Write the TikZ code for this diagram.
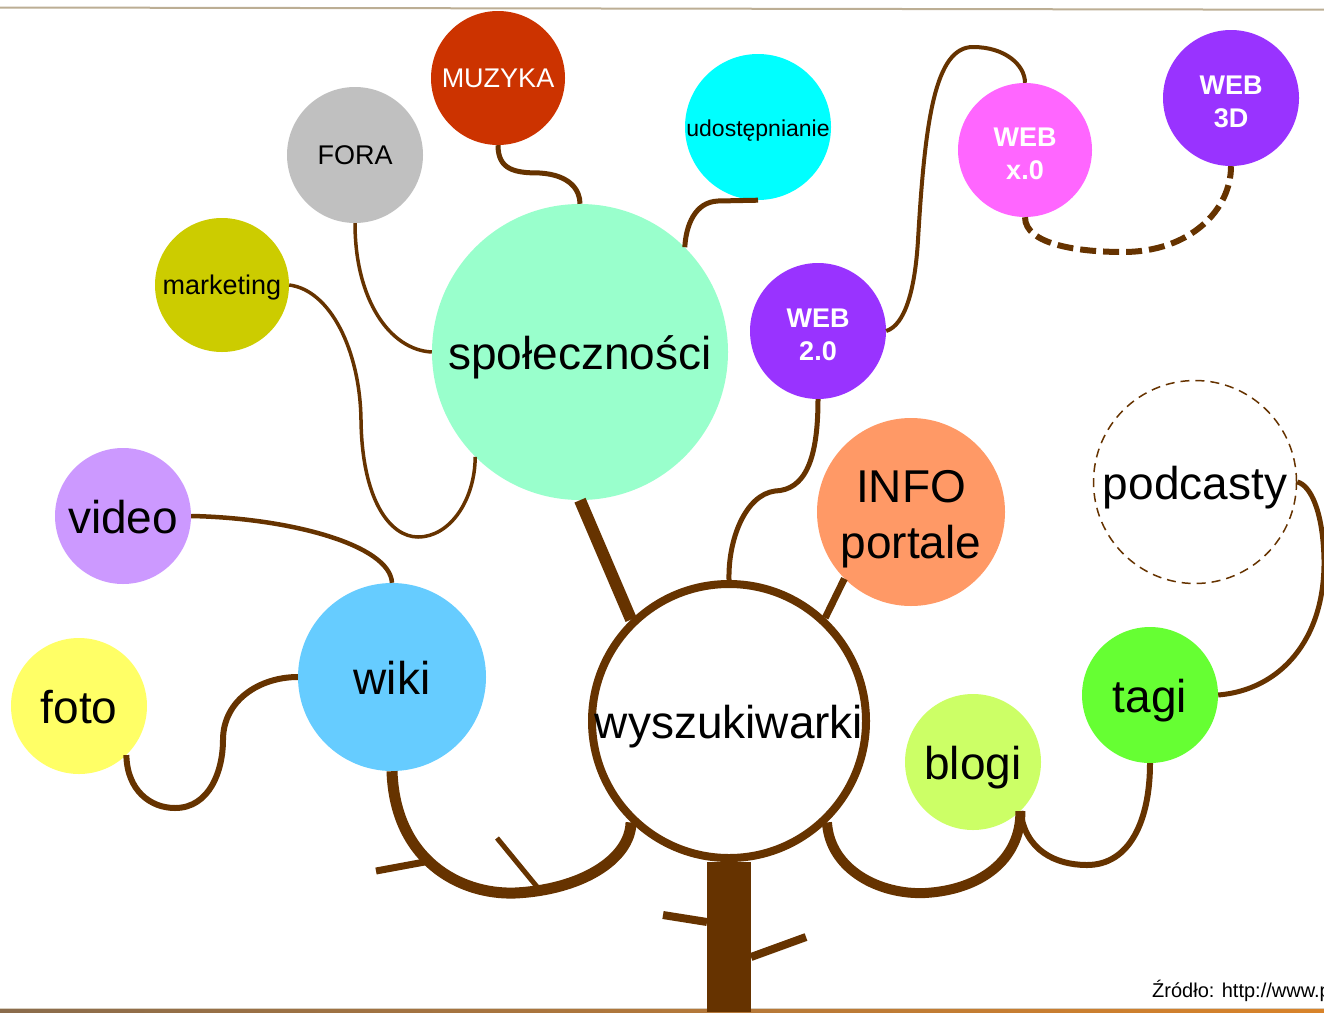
\documentclass[tikz,border=0pt]{standalone}
\usepackage{fontspec}
\setmainfont{Liberation Sans}
\definecolor{brn}{HTML}{663300}
\definecolor{cmuz}{HTML}{CC3300}
\definecolor{cfora}{HTML}{C0C0C0}
\definecolor{cmark}{HTML}{CCCC00}
\definecolor{cudo}{HTML}{00FFFF}
\definecolor{cspol}{HTML}{99FFCC}
\definecolor{cwebx}{HTML}{FF66FF}
\definecolor{cweb}{HTML}{9933FF}
\definecolor{cinfo}{HTML}{FF9966}
\definecolor{cvid}{HTML}{CC99FF}
\definecolor{cwiki}{HTML}{66CCFF}
\definecolor{cfoto}{HTML}{FFFF66}
\definecolor{cblog}{HTML}{CCFF66}
\definecolor{ctagi}{HTML}{66FF33}
\definecolor{ctop}{HTML}{BCAE94}
\definecolor{cbotl}{HTML}{8A6C4C}
\definecolor{cbotr}{HTML}{D8832A}
\newcommand\fntS{\fontsize{27}{33}\selectfont}
\newcommand\fntU{\fontsize{23}{28}\selectfont}
\newcommand\fntB{\fontsize{46}{56}\selectfont}
\newcommand\fntW{\fontsize{27}{33}\selectfont\bfseries}
\tikzset{
  bub/.style={circle, inner sep=0pt, align=center, text=black},
  bigtxt/.style={font=\fntB, text height=35, text depth=0},
  smalltxt/.style={font=\fntS, text height=19.5, text depth=0},
  webtxt/.style={font=\fntW, text=white, text height=58, text depth=0},
  conn/.style={draw=brn, line width=#1},
  twig/.style={draw=brn, line width=#1},
}
\begin{document}
\begin{tikzpicture}[x=1pt,y=-1pt]
\useasboundingbox (0,0) rectangle (1324,1012);
% frame lines
\draw[ctop, line width=2] (0,7.5) -- (1324,9.7);
\draw[ctop!60, line width=1] (0,1008) -- (1324,1008);
\shade[left color=cbotl, right color=cbotr] (0,1009) rectangle (1324,1012);

% trunk
\fill[brn] (707,862) rectangle (751,1012);
\draw[twig=8] (663,915) -- (707,922);
\draw[twig=8] (751,957) -- (806,937);

% bubbles
\node[bub, fill=cmuz, minimum size=134, smalltxt, text=white] (muzyka) at (498,78) {MUZYKA};
\node[bub, fill=cfora, minimum size=136, smalltxt] (fora) at (355,155) {FORA};
\node[bub, fill=cmark, minimum size=134, smalltxt] (mark) at (222,285) {marketing};
\node[bub, fill=cudo, minimum size=146, font=\fntU, text height=18, text depth=0] (udo) at (758,127) {udostępnianie};
\node[bub, fill=cspol, minimum size=296, bigtxt] (spol) at (580,352) {społeczności};
\node[bub, fill=cwebx, minimum size=134, webtxt] (webx) at (1025,150) {WEB\\x.0};
\node[bub, fill=cweb, minimum size=136, webtxt] (web3) at (1231,98) {WEB\\3D};
\node[bub, fill=cweb, minimum size=136, webtxt] (web2) at (818,331) {WEB\\2.0};
\node[bub, fill=cinfo, minimum size=188, font=\fntB, text height=92, text depth=0] (info) at (911,512) {INFO\\portale};
\node[bub, draw=brn, line width=1.5, dash pattern=on 9 off 6, minimum size=203, bigtxt] (pod) at (1195,482) {podcasty};
\node[bub, fill=cvid, minimum size=136, bigtxt] (video) at (123,516) {video};
\node[bub, fill=cwiki, minimum size=188, bigtxt] (wiki) at (392,677) {wiki};
\node[bub, fill=cfoto, minimum size=136, bigtxt] (foto) at (79,706) {foto};
\node[bub, fill=white, draw=brn, line width=8, minimum size=274, bigtxt] (wysz) at (729,721) {wyszukiwarki};
\node[bub, fill=cblog, minimum size=136, bigtxt] (blogi) at (973,762) {blogi};
\node[bub, fill=ctagi, minimum size=136, bigtxt] (tagi) at (1150,695) {tagi};

% connectors
\draw[conn=5] (muzyka.270) .. controls (498,170) and (515,173) .. (540,173) .. controls (570,175) and (580,190) .. (spol.90);
\draw[conn=5] (udo.270) -- (718,201) .. controls (695,202) and (686,225) .. (spol.45);
\draw[conn=3.5] (fora.270) .. controls (355,300) and (390,350) .. (spol.180);
\draw[conn=3.5] (mark.0) .. controls (330,290) and (360,350) .. (361,420) .. controls (362,500) and (390,537) .. (418,537) .. controls (450,537) and (475,500) .. (spol.225);
\draw[conn=12] (spol.270) -- (wysz.134);
\draw[conn=4.5] (video.0) .. controls (290,518) and (390,545) .. (wiki.90);
\draw[conn=6] (foto.314) .. controls (127,790) and (150,808) .. (175,808) .. controls (210,808) and (223,770) .. (223,740) .. controls (223,700) and (260,677) .. (wiki.180);
\draw[conn=11] (wiki.270) .. controls (395,860) and (460,895) .. (515,893) .. controls (580,890) and (630,860) .. (wysz.226);
\draw[twig=7] (376,871) -- (430,861);
\draw[twig=5] (497,838) -- (538,888);
\draw[conn=5] (web2.270) .. controls (818,460) and (805,490) .. (775,491) .. controls (745,495) and (728,540) .. (wysz.90);
\draw[conn=7] (info.225) -- (wysz.47);
\draw[conn=4] (web2.0) .. controls (905,325) and (915,290) .. (918,240) .. controls (925,120) and (935,47) .. (973,47) .. controls (1005,47) and (1025,65) .. (webx.90);
\draw[conn=6, dash pattern=on 16 off 7] (webx.270) .. controls (1025,245) and (1080,252) .. (1123,252) .. controls (1190,252) and (1231,210) .. (web3.270);
\draw[conn=10] (wysz.314) .. controls (830,870) and (880,895) .. (925,893) .. controls (980,890) and (1021,860) .. (blogi.314);
\draw[conn=6] (blogi.314) .. controls (1025,850) and (1055,865) .. (1087,865) .. controls (1130,865) and (1150,820) .. (tagi.270);
\draw[conn=5] (tagi.0) .. controls (1280,690) and (1325,640) .. (1324,560) .. controls (1323,510) and (1310,485) .. (pod.0);

% source
\node[anchor=base west, inner sep=0pt, font=\fontsize{20}{24}\selectfont] (src) at (1152,997) {Źródło: http://www.p};
\end{tikzpicture}
\end{document}
